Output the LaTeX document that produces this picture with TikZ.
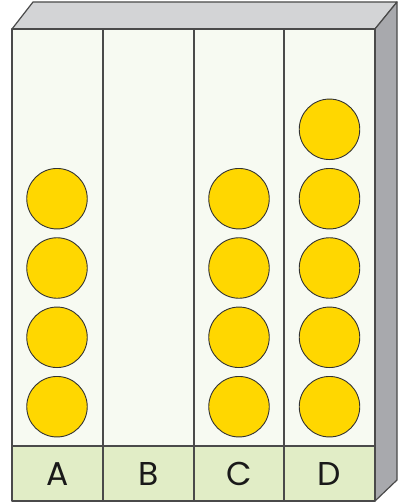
\documentclass[tikz,border=0pt]{standalone}
\usepackage{fontspec}
\newfontfamily\labelfont{Poppins}
\definecolor{frontc}{HTML}{F7FAF2}
\definecolor{labelc}{HTML}{E1EDC6}
\definecolor{topc}{HTML}{D3D4D6}
\definecolor{sidec}{HTML}{A8A9AD}
\definecolor{ballc}{HTML}{FFD700}
\definecolor{edgec}{HTML}{4A4A4A}
\tikzset{
  edge/.style={draw=edgec, line width=1.2pt, line join=round},
  ball/.style={circle, draw=black!80, line width=0.9pt, fill=ballc, minimum size=60.5pt, inner sep=0pt},
  lab/.style={font=\labelfont\fontsize{33}{33}\selectfont, text=black!90, inner sep=0pt}
}
\begin{document}
\begin{tikzpicture}[x=1pt,y=-1pt]
\useasboundingbox (0,0) rectangle (398,503);
% top and side
\path[edge, fill=topc] (12,29) -- (33,2) -- (397,2) -- (375,29) -- cycle;
\path[edge, fill=sidec] (375,29) -- (397,2) -- (397,480) -- (375,501) -- cycle;
% front
\path[edge, fill=frontc] (12,29) rectangle (375,446);
\path[edge, fill=labelc] (12,446) rectangle (375,501);
\foreach \x in {103,194,284} \draw[edge] (\x,29) -- (\x,501);
% labels
\node[lab] (la) at (57.5,474) {A};
\node[lab] (lb) at (148.5,474) {B};
\node[lab] (lc) at (239,474) {C};
\node[lab] (ld) at (329.5,474) {D};
% balls
\foreach \y [count=\i] in {406.7,337.3,268,198.7} {
  \node[ball] (a\i) at (57,\y) {};
  \node[ball] (c\i) at (239,\y) {};
}
\foreach \y [count=\i] in {406.7,337.3,268,198.7,129.3} {
  \node[ball] (d\i) at (329.5,\y) {};
}
\end{tikzpicture}
\end{document}
